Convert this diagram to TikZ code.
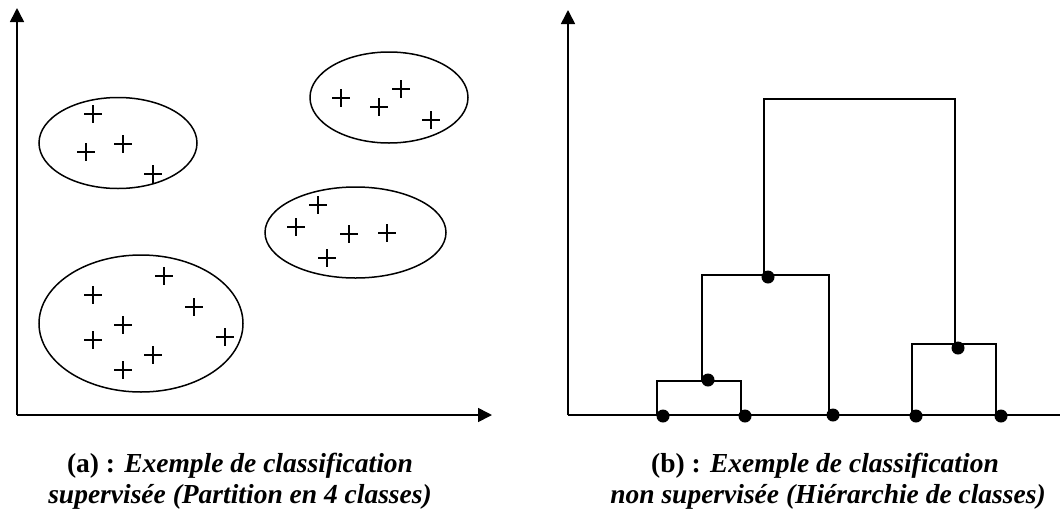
\documentclass[tikz,border=0pt]{standalone}
\usepackage{fontspec}
\setmainfont{Liberation Serif}
\usetikzlibrary{arrows.meta,shapes.geometric}
\begin{document}
\begin{tikzpicture}[x=1pt,y=-1pt,
  line width=1.6pt,
  axis/.style={line width=1.6pt,-{Triangle[length=14pt,width=14pt]}},
  grp/.style={draw,ellipse,line width=1.5pt,inner sep=0pt},
  dot/.style={circle,fill=black,inner sep=0pt,minimum size=13pt},
  capline/.style={anchor=base,font=\fontsize{27.5}{31}\selectfont\bfseries,inner sep=0pt}]
\useasboundingbox (0,0) rectangle (1060,512);
% ---------- panel (a) ----------
\coordinate (aO) at (17,415);
\coordinate (aY) at (17,8);
\coordinate (aX) at (492,415);
\draw[axis] (aO) -- (aY);
\draw[axis] (aO) -- (aX);
\node[grp,minimum width=158pt,minimum height=91pt] (g1) at (118,143) {};
\node[grp,minimum width=158pt,minimum height=91pt] (g2) at (389,97.5) {};
\node[grp,minimum width=181pt,minimum height=91pt] (g3) at (355.5,232.5) {};
\node[grp,minimum width=204pt,minimum height=137pt] (g4) at (141,323.5) {};
\foreach \x/\y in {93/114,86/152,123/144,153/174,
                   341/98,379/107,401/89,431/120,
                   318/205,296/227,349/234,387/233,327/258,
                   93/295,164/276,194/307,123/325,93/340,225/337,153/355,123/370}
  \draw[line width=1.4pt] (\x-9,\y) -- (\x+9,\y) (\x,\y-9) -- (\x,\y+9);
\node[capline] (capa1) at (240,472) {(a) : \itshape Exemple de classification};
\node[capline] (capa2) at (240,503) {\itshape supervisée (Partition en 4 classes)};
% ---------- panel (b) ----------
\coordinate (bO) at (568,415);
\coordinate (bY) at (568,10);
\coordinate (bX) at (1060,415);
\draw[axis] (bO) -- (bY);
\draw (bO) -- (bX);
% leaves
\node[dot] (l1) at (663,416) {};
\node[dot] (l2) at (745,416) {};
\node[dot] (l3) at (833,415) {};
\node[dot] (l4) at (916,416) {};
\node[dot] (l5) at (1001,416) {};
% merge points
\node[dot] (m1) at (708,380) {};
\node[dot] (m2) at (768,277) {};
\node[dot] (m3) at (958,348) {};
% links
\draw (657,415) |- (741,381) -- (741,415);
\draw (702,381) |- (829,275) -- (829,415);
\draw (912,415) |- (996,344) -- (996,415);
\draw (764,275) |- (955,99) -- (955,344);
\node[capline] (capb1) at (825,472) {(b) : \itshape Exemple de classification};
\node[capline] (capb2) at (828,503) {\itshape non supervisée (Hiérarchie de classes)};
\end{tikzpicture}
\end{document}
